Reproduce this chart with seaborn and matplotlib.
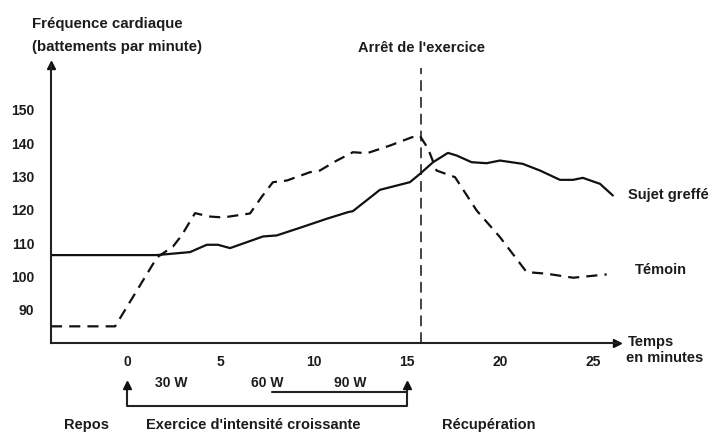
import matplotlib
matplotlib.use("Agg")
import matplotlib.pyplot as plt
import numpy as np
import pandas as pd
import seaborn as sns

# --- data -------------------------------------------------------------
# Time (minutes) and heart rate (beats per minute)
temps_greffe = [-4.08, 1.59, 3.38, 4.28, 4.88, 5.53, 7.30, 8.03, 9.28, 10.71,
                11.86, 12.12, 13.57, 14.27, 15.18, 15.72, 16.42, 17.22, 17.69,
                18.49, 19.30, 20.01, 21.24, 22.16, 23.23, 23.93, 24.46, 25.38,
                26.07]
fc_greffe = [106.4, 106.4, 107.3, 109.5, 109.5, 108.5, 112.0, 112.3, 114.6,
             117.3, 119.3, 119.6, 126.0, 127.0, 128.3, 130.8, 134.3, 137.1,
             136.3, 134.3, 134.0, 134.8, 133.8, 131.8, 129.0, 129.0, 129.6,
             127.8, 124.3]

temps_temoin = [-4.08, -0.64, 1.61, 2.47, 2.93, 3.65, 4.40, 5.15, 6.60, 7.24,
                7.83, 8.58, 9.82, 10.35, 11.16, 12.12, 12.88, 14.11, 15.29,
                15.72, 16.15, 16.61, 17.60, 18.76, 20.01, 21.44, 22.52, 23.94,
                25.74]
fc_temoin = [85.0, 85.0, 105.7, 109.0, 112.3, 119.0, 118.0, 117.7, 118.9, 124.0,
             128.3, 128.8, 131.3, 131.8, 134.5, 137.3, 137.0, 139.3, 141.8,
             142.2, 138.4, 131.8, 129.8, 119.8, 111.8, 101.3, 100.8, 99.6, 100.6]

x_ticks = [0, 5, 10, 15, 20, 25]
y_ticks = [90, 100, 110, 120, 130, 140, 150]
arret_exercice = 15.8
debut_exercice = 0
fin_exercice = 15
paliers = ["30 W", "60 W", "90 W"]
paliers_x = [2.4, 7.55, 12.0]
debut_90w = 7.8

# --- style ------------------------------------------------------------
sns.set_style("white")
FONT = ["Liberation Sans Narrow", "Liberation Sans", "DejaVu Sans"]
plt.rcParams["font.family"] = FONT
plt.rcParams["font.weight"] = "bold"
INK = "#1c1c1c"

fig = plt.figure(figsize=(7.15, 4.47), dpi=100)
ax = fig.add_axes([0.0713, 0.2327, 0.7916, 0.6219])

df_g = pd.DataFrame({"temps": temps_greffe, "fc": fc_greffe})
df_t = pd.DataFrame({"temps": temps_temoin, "fc": fc_temoin})

sns.lineplot(data=df_g, x="temps", y="fc", ax=ax, color="#111111",
             linewidth=1.6, sort=False)
sns.lineplot(data=df_t, x="temps", y="fc", ax=ax, color="#111111",
             linewidth=1.6, linestyle=(0, (5, 3.2)), sort=False)

ax.set_xlim(-4.08, 26.29)
ax.set_ylim(80, 163.5)

# end of exercise marker
ax.plot([arret_exercice, arret_exercice], [80, 162.5], color="#111111",
        linewidth=1.1, linestyle=(0, (7, 4)), clip_on=False)
ax.text(arret_exercice, 168.5, "Arrêt de l'exercice", ha="center",
        va="center", fontsize=10.5, color=INK)

# axes: only left and bottom, ending with arrow heads
for side in ("top", "right"):
    ax.spines[side].set_visible(False)
for side in ("left", "bottom"):
    ax.spines[side].set_linewidth(1.5)
    ax.spines[side].set_color("#222222")
ax.plot(0, 1, marker="^", markersize=6, color="#111111",
        transform=ax.transAxes, clip_on=False)
ax.plot(1, 0, marker=">", markersize=6, color="#111111",
        transform=ax.transAxes, clip_on=False)

ax.set_xticks(x_ticks)
ax.set_xticklabels([str(t) for t in x_ticks])
ax.set_yticks(y_ticks)
ax.set_yticklabels([str(t) for t in y_ticks])
ax.tick_params(axis="both", direction="out", length=4, width=1.3,
               colors="#222222", labelsize=10, labelcolor=INK)
ax.tick_params(axis="x", pad=5)
ax.tick_params(axis="y", pad=8)
ax.set_xlabel("")
ax.set_ylabel("")

# titles and series labels
ax.text(-5.1, 175.9, "Fréquence cardiaque", ha="left", va="center",
        fontsize=10.8, color=INK, clip_on=False)
ax.text(-5.1, 168.9, "(battements par minute)", ha="left", va="center",
        fontsize=10.8, color=INK, clip_on=False)
ax.text(26.88, 124.3, "Sujet greffé", ha="left", va="center",
        fontsize=10.5, color=INK, clip_on=False)
ax.text(27.25, 101.8, "Témoin", ha="left", va="center",
        fontsize=10.5, color=INK, clip_on=False)
ax.text(26.9, 80.3, "Temps", ha="left", va="center",
        fontsize=10.5, color=INK, clip_on=False)
ax.text(26.75, 75.4, "en minutes", ha="left", va="center",
        fontsize=10.5, color=INK, clip_on=False)

# exercise phases under the time axis
tr = ax.get_xaxis_transform()
for label, xp in zip(paliers, paliers_x):
    ax.text(xp, -0.144, label, transform=tr, ha="center", va="center",
            fontsize=10, color=INK, clip_on=False)

y_low, y_tip, y_mid = -0.2255, -0.151, -0.175
ax.plot([debut_exercice, debut_exercice, fin_exercice, fin_exercice],
        [y_tip, y_low, y_low, y_tip], transform=tr, color="#222222",
        linewidth=1.5, clip_on=False)
ax.plot([debut_90w, fin_exercice], [y_mid, y_mid], transform=tr,
        color="#222222", linewidth=1.5, clip_on=False)
for xp in (debut_exercice, fin_exercice):
    ax.plot(xp, y_tip, marker="^", markersize=6, color="#111111",
            transform=tr, clip_on=False)

ax.text(-2.2, -0.295, "Repos", transform=tr, ha="center", va="center",
        fontsize=10.5, color=INK, clip_on=False)
ax.text(6.8, -0.295, "Exercice d'intensité croissante", transform=tr,
        ha="center", va="center", fontsize=10.5, color=INK, clip_on=False)
ax.text(19.4, -0.295, "Récupération", transform=tr, ha="center",
        va="center", fontsize=10.5, color=INK, clip_on=False)

fig.savefig("out.png", dpi=100)
